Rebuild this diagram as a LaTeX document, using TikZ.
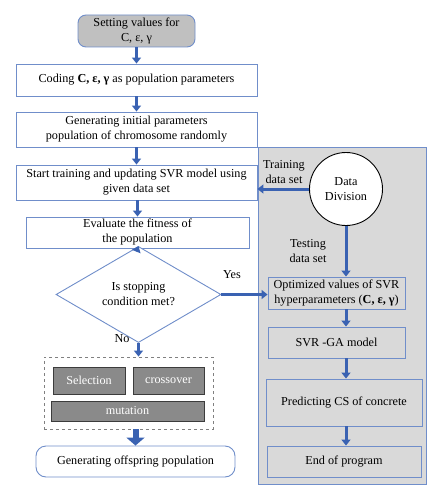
\documentclass[tikz,border=0pt]{standalone}
\usepackage{fontspec}
\setmainfont{Liberation Serif}
\usetikzlibrary{arrows.meta,shapes.geometric}
\definecolor{arrblue}{RGB}{58,98,178}
\definecolor{boxblue}{RGB}{112,142,202}
\definecolor{panelgray}{RGB}{217,217,217}
\definecolor{topgray}{RGB}{192,192,192}
\definecolor{opgray}{RGB}{138,138,138}
\definecolor{opborder}{RGB}{60,60,60}
\begin{document}
\begin{tikzpicture}[x=1pt,y=-1pt,
  every node/.style={font=\fontsize{12.2}{15}\selectfont, inner sep=0pt, align=center},
  flowbox/.style={draw=boxblue, line width=0.9pt, fill=white, rectangle},
  panelbox/.style={draw=boxblue, line width=0.9pt, fill=panelgray, rectangle},
  opbox/.style={draw=opborder, line width=0.9pt, fill=opgray, rectangle, text=white},
  arr/.style={draw=arrblue, line width=3pt, -{Triangle[width=9pt,length=6pt]}},
  bigarr/.style={draw=arrblue, line width=6pt, -{Triangle[width=18pt,length=8pt]}},
  lbl/.style={font=\fontsize{12.2}{15}\selectfont}
]
\useasboundingbox (0,0) rectangle (442,500);
% right panel
\node[panelbox, minimum width=168pt, minimum height=337pt] (panel) at (342,315.5) {};
% left column
\node[flowbox, fill=topgray, rounded corners=8pt, minimum width=117pt, minimum height=32pt] (set) at (136.5,31) {Setting values for\\C, ε, γ};
\node[flowbox, minimum width=241pt, minimum height=32pt] (code) at (136.5,80) {Coding \textbf{C, ε, γ} as population parameters};
\node[flowbox, minimum width=241pt, minimum height=35pt] (gen) at (136.5,129.5) {Generating initial parameters\\population of chromosome randomly};
\node[flowbox, minimum width=241pt, minimum height=35pt] (train) at (136.5,182.5) {Start training and updating SVR model using\\given data set};
\node[flowbox, minimum width=223pt, minimum height=31pt] (eval) at (137.5,232.5) {Evaluate the fitness of\\the population};
\node[draw=boxblue, line width=0.9pt, fill=white, diamond, minimum width=165pt, minimum height=61pt] (dia) at (138.5,294.5) {Is stopping\\condition met?};
\node[draw=gray, dashed, line width=0.9pt, rectangle, minimum width=169pt, minimum height=72pt] (ops) at (128.5,393) {};
\node[opbox, minimum width=72pt, minimum height=27pt] (sel) at (89,380.5) {Selection};
\node[opbox, minimum width=71pt, minimum height=27pt] (cross) at (168.5,380.5) {crossover};
\node[opbox, minimum width=153pt, minimum height=20pt] (mut) at (127.5,411) {mutation};
\node[flowbox, rounded corners=10pt, minimum width=199pt, minimum height=31pt] (off) at (135.5,461.5) {Generating offspring population};
% right column
\node[draw=black, line width=0.9pt, fill=white, circle, minimum size=73pt] (dd) at (346,189) {Data\\Division};
\node[panelbox, minimum width=137pt, minimum height=32pt] (opt) at (336.5,293) {Optimized values of SVR\\hyperparameters (\textbf{C, ε, γ})};
\node[panelbox, minimum width=137pt, minimum height=31pt] (svrga) at (336.5,342.5) {SVR -GA model};
\node[panelbox, minimum width=156pt, minimum height=47pt] (pred) at (344,402.5) {Predicting CS of concrete};
\node[panelbox, minimum width=154pt, minimum height=31pt] (endp) at (344,461.5) {End of program};
% labels
\node[lbl] (yes) at (232,275) {Yes};
\node[lbl] (no) at (122,339) {No};
\node[lbl] (trl) at (284,172) {Training\\data set};
\node[lbl] (tel) at (308,251) {Testing\\data set};
% arrows
\draw[arr] (set.south) -- (code.north);
\draw[arr] (code.south) -- (gen.north);
\draw[arr] (gen.south) -- (train.north);
\draw[arr] (train.south -| eval) -- (eval.north);
\draw[arr] (eval.south) -- (dia.north);
\draw[arr] (dia.south) -- (dia.south |- ops.north);
\draw[bigarr] (ops.south -| off) -- (off.north);
\draw[arr] (dia.east) -- (dia.east -| opt.west);
\draw[arr] (dd.west) -- (dd.west -| train.east);
\draw[arr] (dd.south) -- (dd.south |- opt.north);
\draw[arr] (opt.south -| dd) -- (svrga.north -| dd);
\draw[arr] (svrga.south -| dd) -- (pred.north -| dd);
\draw[arr] (pred.south -| dd) -- (endp.north -| dd);
\end{tikzpicture}
\end{document}
